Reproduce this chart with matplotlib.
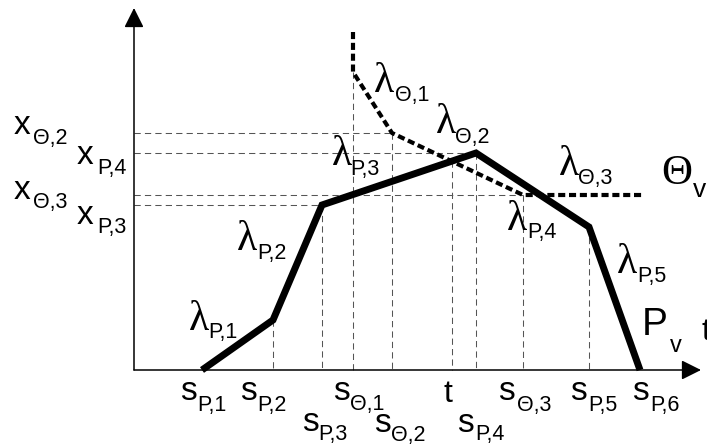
import matplotlib
matplotlib.use("Agg")
import matplotlib.pyplot as plt
import numpy as np

# ---- data -------------------------------------------------------------
# Piecewise-linear P_v profile: breakpoints s_P,i and levels
s_P = [68, 139, 188, 342, 455, 506]
x_P = [0, 50, 165, 217, 143, 0]

# Theta_v profile: vertical start, three slopes, flat tail
s_T = [219, 219, 258, 389, 508]
x_T = [338, 298, 237, 175, 175]

# crossing point t of the two profiles
t_cross = 318

# level labels on the vertical axis
level_names = ["x", "x", "x", "x"]
level_subs = ["Θ,2", "P,4", "Θ,3", "P,3"]
level_vals = [237, 217, 175, 165]
level_ends = [258, 342, 389, 188]

# breakpoint names on the horizontal axis
brk_names = ["s", "s", "s", "s", "s", "s", "s", "s", "s"]
brk_subs = ["P,1", "P,2", "Θ,1", "Θ,3", "P,5", "P,6", "P,3", "Θ,2", "P,4"]

# slope labels
slope_subs = ["Θ,1", "Θ,2", "P,3", "Θ,3", "P,4", "P,5", "P,2", "P,1"]

# ---- figure -----------------------------------------------------------
fig = plt.figure(figsize=(7.07, 4.48), dpi=100)
ax = fig.add_axes([0, 0, 1, 1])
ax.set_xlim(-134, 573)
ax.set_ylim(-78, 370)
ax.axis("off")

SANS = "Liberation Sans"
SERIF = "Liberation Serif"
GRAY = "#555555"
gdash = (0, (6.0, 4.0))

# guide lines: horizontal levels
for v, e in zip(level_vals, level_ends):
    ax.plot([0, e], [v, v], color=GRAY, lw=0.75, ls=gdash, zorder=1)

# guide lines: vertical breakpoints down to the axis
for s, v in zip(s_P[1:5], x_P[1:5]):
    ax.plot([s, s], [v, 0], color=GRAY, lw=0.75, ls=gdash, zorder=1)
for s, v in zip(s_T[1:4], x_T[1:4]):
    ax.plot([s, s], [v, 0], color=GRAY, lw=0.75, ls=gdash, zorder=1)
t_level = np.interp(t_cross, s_P, x_P)
ax.plot([t_cross, t_cross], [t_level, 0], color=GRAY, lw=0.75, ls=gdash, zorder=1)

# axes with arrow heads
arrow = dict(arrowstyle="-|>,head_length=0.4,head_width=0.2", mutation_scale=30,
             lw=1.1, color="black", shrinkA=0, shrinkB=0)
ax.annotate("", xy=(0, 362), xytext=(0, 0), arrowprops=arrow, zorder=3)
ax.annotate("", xy=(567, 0), xytext=(0, 0), arrowprops=arrow, zorder=3)

# profiles
ax.plot(s_T, x_T, color="black", lw=3.0, ls=(0, (1.7, 0.9)),
        dash_capstyle="butt", zorder=4)
ax.plot(s_P, x_P, color="black", lw=5.0, solid_capstyle="butt",
        solid_joinstyle="miter", zorder=5)


def sub_label(x, y, main, sub, xs, ys, mfont=SANS, msize=24, ssize=15.5):
    ax.text(x, y, main, family=mfont, fontsize=msize, ha="left", va="baseline",
            clip_on=False)
    ax.text(xs, ys, sub, family=SANS, fontsize=ssize, ha="left", va="baseline",
            clip_on=False)


# level labels
level_pos = [(-120, 236, -101, 226), (-57, 206, -37, 196),
             (-120, 171, -101, 162), (-57, 146, -37, 137)]
for n, sb, (x, y, xs, ys) in zip(level_names, level_subs, level_pos):
    sub_label(x, y, n, sb, xs, ys)

# breakpoint labels
brk_pos = [(46, -30, 63, -41), (106, -30, 123, -41), (199, -30, 216, -40),
           (364, -30, 383, -41), (436, -30, 454, -41), (498, -30, 516, -41),
           (168, -61, 184, -70), (240, -62, 257, -71), (323, -62, 341, -70)]
for n, sb, (x, y, xs, ys) in zip(brk_names, brk_subs, brk_pos):
    sub_label(x, y, n, sb, xs, ys)
ax.text(309, -32, "t", family=SANS, fontsize=23, ha="left", va="baseline")

# slope labels
slope_pos = [(240, 278, 261, 269), (302, 237, 321, 227), (198, 205, 216, 195),
             (425, 195, 444, 186), (373, 140, 393, 132), (483, 97, 503, 88),
             (103, 120, 123, 111), (55, 40, 74, 32)]
for sb, (x, y, xs, ys) in zip(slope_subs, slope_pos):
    sub_label(x, y, "λ", sb, xs, ys, mfont=SERIF, msize=30)

# curve names
sub_label(527, 186, "Θ", "v", 559, 173, mfont=SERIF, msize=31, ssize=19)
sub_label(508, 35, "P", "v", 536, 18, msize=28, ssize=17)
ax.text(568, 30, "t", family=SANS, fontsize=23, ha="left", va="baseline",
        clip_on=False)

fig.savefig("out.png", dpi=100)
